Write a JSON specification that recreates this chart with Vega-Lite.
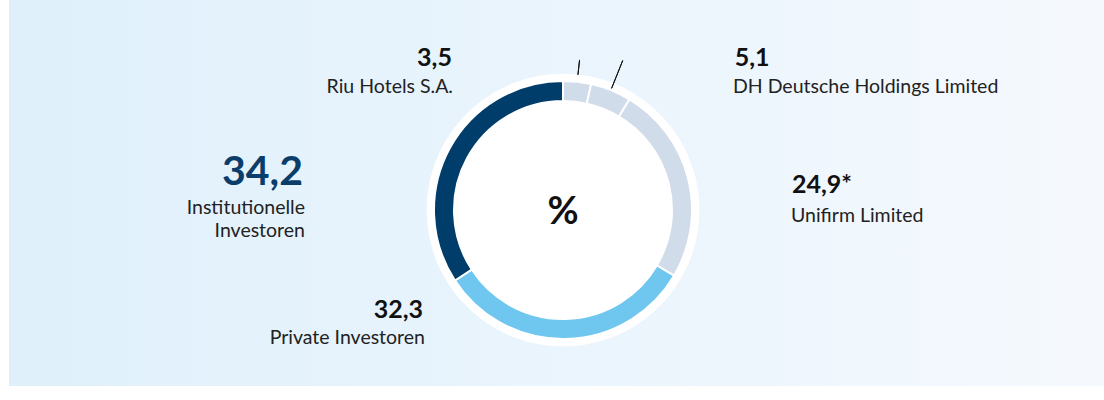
{
  "$schema": "https://vega.github.io/schema/vega-lite/v6.json",
  "width": 1095,
  "height": 386,
  "autosize": {"type": "none"},
  "padding": {"left": 9, "top": 0, "right": 0, "bottom": 14},
  "background": "#ffffff",
  "view": {
    "stroke": null,
    "fill": {
      "gradient": "linear",
      "x1": 0, "y1": 0, "x2": 1, "y2": 0,
      "stops": [
        {"offset": 0, "color": "#dff0fb"},
        {"offset": 1, "color": "#f5f9fe"}
      ]
    }
  },
  "config": {"font": "Lato"},
  "data": {
    "values": [
      {"name": "Riu Hotels S.A.", "value": 3.5, "label": "3,5"},
      {"name": "DH Deutsche Holdings Limited", "value": 5.1, "label": "5,1"},
      {"name": "Unifirm Limited", "value": 24.9, "label": "24,9*"},
      {"name": "Private Investoren", "value": 32.3, "label": "32,3"},
      {"name": "Institutionelle Investoren", "value": 34.2, "label": "34,2"}
    ]
  },
  "transform": [{"window": [{"op": "row_number", "as": "rank"}]}],
  "layer": [
    {
      "mark": {"type": "arc", "outerRadius": 136, "xOffset": 6.5, "yOffset": 17, "fill": "#ffffff", "stroke": "#ffffff", "strokeWidth": 1},
      "encoding": {
        "theta": {"field": "value", "type": "quantitative", "stack": true},
        "order": {"field": "rank", "type": "quantitative"}
      }
    },
    {
      "mark": {"type": "arc", "outerRadius": 129, "innerRadius": 109, "xOffset": 6.5, "yOffset": 17, "stroke": "#ffffff", "strokeWidth": 2},
      "encoding": {
        "theta": {"field": "value", "type": "quantitative", "stack": true},
        "order": {"field": "rank", "type": "quantitative"},
        "color": {
          "field": "name", "type": "nominal", "legend": null,
          "scale": {
            "domain": ["Riu Hotels S.A.", "DH Deutsche Holdings Limited", "Unifirm Limited", "Private Investoren", "Institutionelle Investoren"],
            "range": ["#d1dcea", "#d1dcea", "#d1dcea", "#6fc7ef", "#003d6b"]
          }
        }
      }
    },
    {
      "mark": {"type": "arc", "outerRadius": 151, "innerRadius": 136, "xOffset": 6.5, "yOffset": 17, "padAngle": 3, "filled": false, "stroke": "#111111", "strokeWidth": 1},
      "encoding": {
        "theta": {"field": "value", "type": "quantitative", "stack": true},
        "order": {"field": "rank", "type": "quantitative"},
        "strokeOpacity": {"condition": {"test": "datum.name === 'Riu Hotels S.A.'", "value": 1}, "value": 0}
      }
    },
    {
      "mark": {"type": "arc", "outerRadius": 161, "innerRadius": 131, "xOffset": 6.5, "yOffset": 17, "padAngle": 3, "filled": false, "stroke": "#111111", "strokeWidth": 1},
      "encoding": {
        "theta": {"field": "value", "type": "quantitative", "stack": true},
        "order": {"field": "rank", "type": "quantitative"},
        "strokeOpacity": {"condition": {"test": "datum.name === 'DH Deutsche Holdings Limited'", "value": 1}, "value": 0}
      }
    },
    {
      "mark": {"type": "text", "radius": 150, "xOffset": 6.5, "yOffset": 17, "align": "right", "baseline": "alphabetic", "dx": -127.5, "dy": 5, "fontSize": 25, "fontWeight": "bold", "color": "#111111"},
      "encoding": {
        "theta": {"field": "value", "type": "quantitative", "stack": true},
        "order": {"field": "rank", "type": "quantitative"},
        "text": {"condition": {"test": "datum.name === 'Riu Hotels S.A.'", "field": "label"}, "value": ""}
      }
    },
    {
      "mark": {"type": "text", "radius": 150, "xOffset": 6.5, "yOffset": 17, "align": "right", "baseline": "alphabetic", "dx": -126.5, "dy": 32, "fontSize": 19.5, "color": "#222222"},
      "encoding": {
        "theta": {"field": "value", "type": "quantitative", "stack": true},
        "order": {"field": "rank", "type": "quantitative"},
        "text": {"condition": {"test": "datum.name === 'Riu Hotels S.A.'", "field": "name"}, "value": ""}
      }
    },
    {
      "mark": {"type": "text", "radius": 150, "xOffset": 6.5, "yOffset": 17, "align": "left", "baseline": "alphabetic", "dx": 116, "dy": -4.7, "fontSize": 25, "fontWeight": "bold", "color": "#111111"},
      "encoding": {
        "theta": {"field": "value", "type": "quantitative", "stack": true},
        "order": {"field": "rank", "type": "quantitative"},
        "text": {"condition": {"test": "datum.name === 'DH Deutsche Holdings Limited'", "field": "label"}, "value": ""}
      }
    },
    {
      "mark": {"type": "text", "radius": 150, "xOffset": 6.5, "yOffset": 17, "align": "left", "baseline": "alphabetic", "dx": 114.3, "dy": 22.3, "fontSize": 19.5, "color": "#222222"},
      "encoding": {
        "theta": {"field": "value", "type": "quantitative", "stack": true},
        "order": {"field": "rank", "type": "quantitative"},
        "text": {"condition": {"test": "datum.name === 'DH Deutsche Holdings Limited'", "field": "name"}, "value": ""}
      }
    },
    {
      "mark": {"type": "text", "radius": 150, "xOffset": 6.5, "yOffset": 17, "align": "left", "baseline": "alphabetic", "dx": 83.6, "dy": 19.8, "fontSize": 25, "fontWeight": "bold", "color": "#111111"},
      "encoding": {
        "theta": {"field": "value", "type": "quantitative", "stack": true},
        "order": {"field": "rank", "type": "quantitative"},
        "text": {"condition": {"test": "datum.name === 'Unifirm Limited'", "field": "label"}, "value": ""}
      }
    },
    {
      "mark": {"type": "text", "radius": 150, "xOffset": 6.5, "yOffset": 17, "align": "left", "baseline": "alphabetic", "dx": 82.6, "dy": 49.3, "fontSize": 19.5, "color": "#222222"},
      "encoding": {
        "theta": {"field": "value", "type": "quantitative", "stack": true},
        "order": {"field": "rank", "type": "quantitative"},
        "text": {"condition": {"test": "datum.name === 'Unifirm Limited'", "field": "name"}, "value": ""}
      }
    },
    {
      "mark": {"type": "text", "radius": 150, "xOffset": 6.5, "yOffset": 17, "align": "right", "baseline": "alphabetic", "dx": -143.3, "dy": -42, "fontSize": 25, "fontWeight": "bold", "color": "#111111"},
      "encoding": {
        "theta": {"field": "value", "type": "quantitative", "stack": true},
        "order": {"field": "rank", "type": "quantitative"},
        "text": {"condition": {"test": "datum.name === 'Private Investoren'", "field": "label"}, "value": ""}
      }
    },
    {
      "mark": {"type": "text", "radius": 150, "xOffset": 6.5, "yOffset": 17, "align": "right", "baseline": "alphabetic", "dx": -141.3, "dy": -16, "fontSize": 19.5, "color": "#222222"},
      "encoding": {
        "theta": {"field": "value", "type": "quantitative", "stack": true},
        "order": {"field": "rank", "type": "quantitative"},
        "text": {"condition": {"test": "datum.name === 'Private Investoren'", "field": "name"}, "value": ""}
      }
    },
    {
      "mark": {"type": "text", "radius": 150, "xOffset": 6.5, "yOffset": 17, "align": "right", "baseline": "alphabetic", "dx": -128.1, "dy": 46.4, "fontSize": 41, "fontWeight": "bold", "color": "#0b3d6b"},
      "encoding": {
        "theta": {"field": "value", "type": "quantitative", "stack": true},
        "order": {"field": "rank", "type": "quantitative"},
        "text": {"condition": {"test": "datum.name === 'Institutionelle Investoren'", "field": "label"}, "value": ""}
      }
    },
    {
      "mark": {"type": "text", "radius": 150, "xOffset": 6.5, "yOffset": 17, "align": "right", "baseline": "alphabetic", "dx": -126.1, "dy": 75.4, "fontSize": 19.5, "lineHeight": 23, "lineBreak": " ", "color": "#222222"},
      "encoding": {
        "theta": {"field": "value", "type": "quantitative", "stack": true},
        "order": {"field": "rank", "type": "quantitative"},
        "text": {"condition": {"test": "datum.name === 'Institutionelle Investoren'", "field": "name"}, "value": ""}
      }
    },
    {
      "data": {"values": [{"unit": "%"}]},
      "mark": {"type": "text", "xOffset": 6.5, "yOffset": 17, "dy": 3, "align": "center", "baseline": "middle", "fontSize": 38, "fontWeight": "bold", "color": "#111111"},
      "encoding": {"text": {"field": "unit", "type": "nominal"}}
    }
  ]
}
